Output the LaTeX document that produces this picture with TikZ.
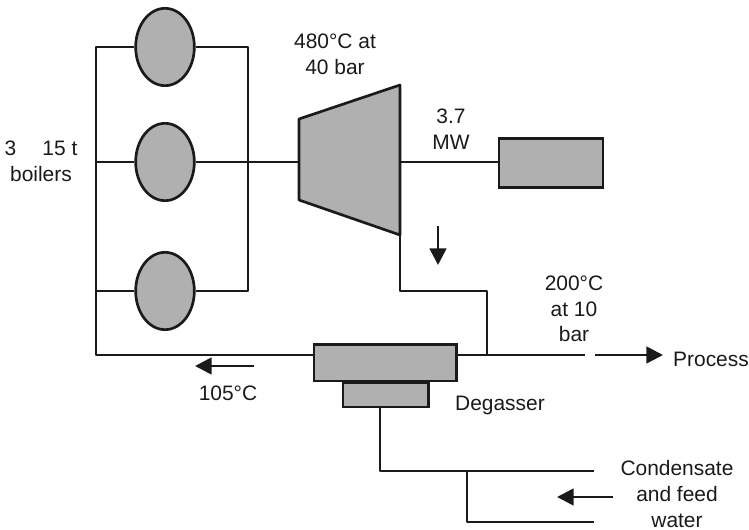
\documentclass[tikz,border=0pt]{standalone}
\usepackage{fontspec}
\setmainfont{Liberation Sans}
\usetikzlibrary{arrows.meta,shapes.geometric}
\definecolor{fillg}{HTML}{B0B0B0}
\definecolor{inkc}{HTML}{1A1A1A}
\tikzset{
 pipe/.style={line width=2pt,draw=inkc,line join=round},
 boiler/.style={ellipse,draw=inkc,line width=2pt,fill=fillg,minimum width=44pt,minimum height=58pt,inner sep=0pt},
 box/.style={rectangle,draw=inkc,line width=2pt,fill=fillg,inner sep=0pt},
 lab/.style={font=\fontsize{15.7pt}{19.2pt}\selectfont,align=center,text=inkc,inner sep=0pt},
 flow/.style={line width=2pt,draw=inkc,fill=inkc,-{Triangle[length=12.5pt,width=12.5pt]}}
}
\begin{document}
\begin{tikzpicture}[x=0.75pt,y=-0.75pt]
\useasboundingbox (0,0) rectangle (749,530);
\coordinate (tl) at (96,47);
\coordinate (tr) at (248,47);
\coordinate (ml) at (96,162);
\coordinate (mr) at (248,162);
\coordinate (bl) at (96,291);
\coordinate (br) at (248,291);
\coordinate (cl) at (96,355);
\coordinate (e2) at (400,291);
\coordinate (e3) at (487,291);
\coordinate (e4) at (487,355);
\coordinate (e5) at (585,355);
\coordinate (e6) at (595,355);
\coordinate (e7) at (663,355);
\node[boiler] (b1) at (165,47) {};
\node[boiler] (b2) at (165,162) {};
\node[boiler] (b3) at (165,291) {};
\node[box,minimum width=78pt,minimum height=37pt,anchor=north west] (gen) at (497.5,137) {};
\node[box,minimum width=107pt,minimum height=27.5pt,anchor=north west] (deg) at (312.5,343) {};
\node[box,minimum width=64pt,minimum height=18.5pt,anchor=north west] (deg2) at (341.5,381) {};
\draw[pipe] (b1.west)--(tl)--(cl)--(deg.west|-cl);
\draw[pipe] (b1.east)--(tr)--(br)--(b3.east);
\draw[pipe] (b3.west)--(bl);
\draw[pipe] (ml)--(b2.west);
\coordinate (tinA) at (299,162);
\draw[pipe] (b2.east)--(tinA);
\draw[pipe,fill=fillg] (299,119)--(400,85)--(400,235)--(299,200)--cycle;
\coordinate (tout) at (400,162);
\coordinate (tbot) at (400,235);
\draw[pipe] (tout)--(gen.west|-tout);
\draw[pipe] (tbot)--(e2)--(e3)--(e4);
\draw[pipe] (deg.east|-cl)--(e5);
\draw[flow] (e6)--(e7);
\coordinate (c0) at (380,406);
\coordinate (c1) at (380,471);
\coordinate (c2) at (594,471);
\coordinate (c3) at (467,471);
\coordinate (c4) at (467,522);
\coordinate (c5) at (594,522);
\draw[pipe] (c0)--(c1)--(c2);
\draw[pipe] (c3)--(c4)--(c5);
\coordinate (a1) at (438,226); \coordinate (a2) at (438,265);
\draw[flow] (a1)--(a2);
\coordinate (a3) at (254,366); \coordinate (a4) at (195,366);
\draw[flow] (a3)--(a4);
\coordinate (a5) at (613,497); \coordinate (a6) at (557,497);
\draw[flow] (a5)--(a6);
\node[lab] (t1) at (335,54) {480°C at\\40 bar};
\node[lab] (t2) at (451,129) {3.7\\MW};
\node[lab] (t3) at (41,161) {3\hspace{1.25em}15 t\\boilers};
\node[lab] (t4) at (574,309) {200°C\\at 10\\bar};
\node[lab] (t5) at (711,359) {Process};
\node[lab] (t6) at (228,393) {105°C};
\node[lab] (t7) at (500,405) {Degasser};
\node[lab] (t8) at (677,494) {Condensate\\and feed\\water};
\end{tikzpicture}
\end{document}
